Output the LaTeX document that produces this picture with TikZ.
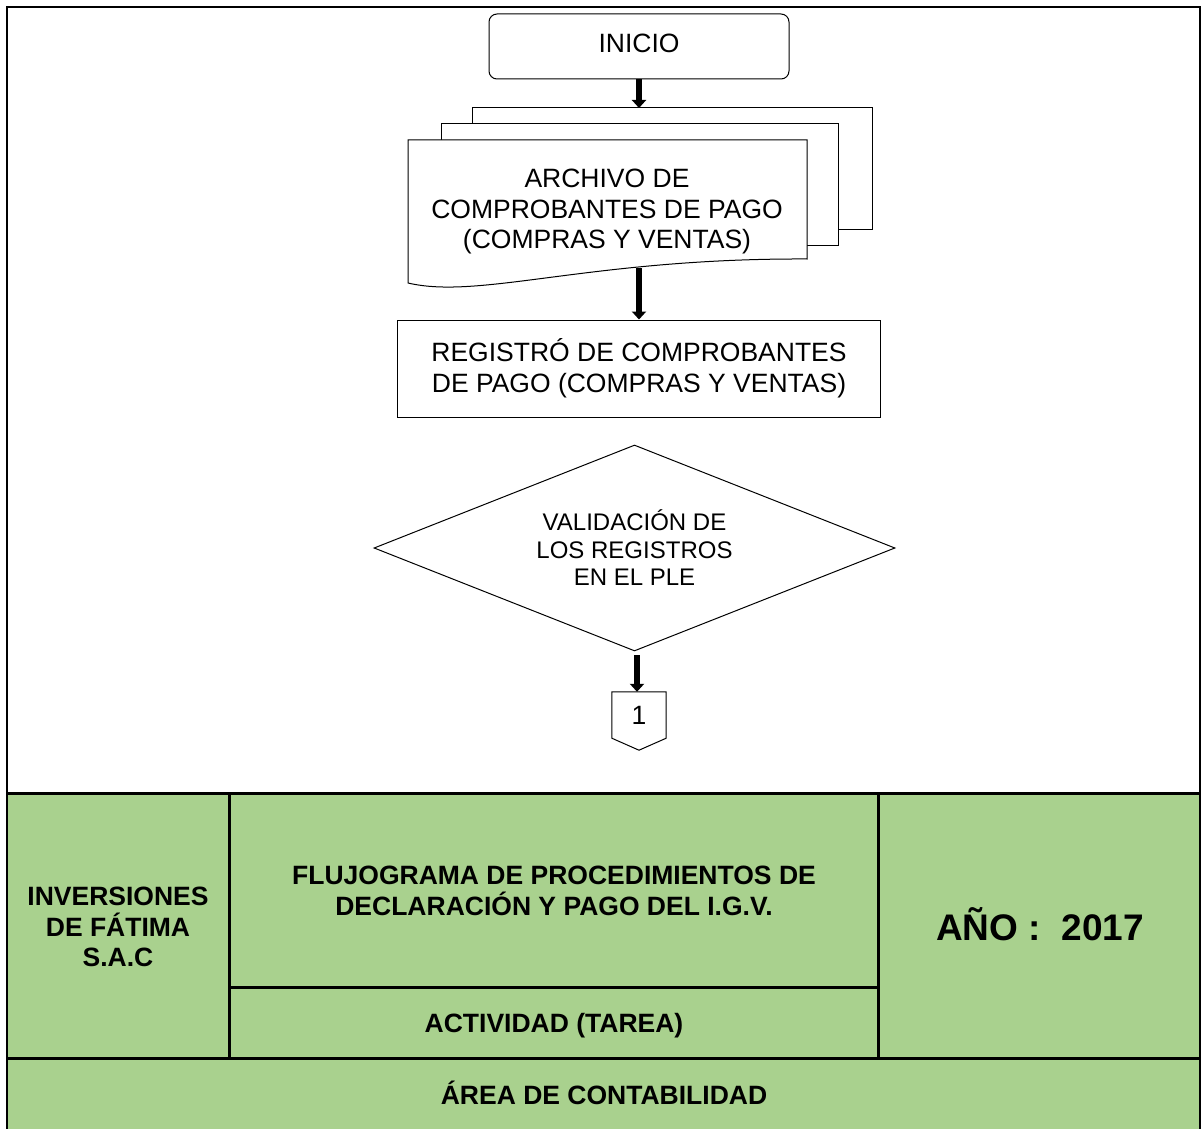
\documentclass[tikz,border=0pt]{standalone}
\usepackage{fontspec}
\setmainfont{Liberation Sans}
\usetikzlibrary{shapes.geometric,arrows.meta}
\usepackage{xcolor}
\definecolor{verdeTabla}{HTML}{A9D18E}
\newcommand{\grande}{\fontsize{26.5}{30.5}\selectfont}
\newcommand{\mediano}{\fontsize{24}{27.5}\selectfont}
\newcommand{\negrita}{\bfseries\fontsize{26.5}{30.5}\selectfont}
\newcommand{\flecha}[2] {
    \draw[line width=5.5pt,-{Triangle[length=8pt,width=14pt]}] (#1) -- (#2);
}
\newcommand{\celda}[4] {
    \node[font=\negrita,align=center] (#1) at (#2,#3) {#4};
}
\newcommand{\marco} {
    \tikzset{
        x=1pt,
        y=-1pt,
    }
    \useasboundingbox (0,0) rectangle (1203,1129);
    \fill[verdeTabla] (7,793) rectangle (1200,1129);
    \draw[line width=2.5pt] (7,1129) -- (7,7) -- (1200,7) -- (1200,1129);
    \draw[line width=3pt] (7,793) -- (1200,793);
    \draw[line width=3pt] (7,1058) -- (1200,1058);
    \draw[line width=3pt] (229,793) -- (229,1058);
    \draw[line width=3pt] (878,793) -- (878,1058);
    \draw[line width=3pt] (229,987) -- (878,987);
}

\begin{document}
\begin{tikzpicture}
        \marco
        \node[draw,line width=1pt,rounded corners=8pt,minimum width=300,minimum height=65,text depth=6pt,font=\grande]
            (inicio) at (639,46.5) {INICIO};
        \draw[line width=1pt] (472,124) -- (472,108) -- (872,108) -- (872,229) -- (838,229);
        \draw[line width=1pt] (441,140) -- (441,124) -- (838,124) -- (838,245) -- (807,245);
        \draw[line width=1pt,fill=white] (408,140) -- (807,140) -- (807,259)
            .. controls (590,258) and (480,300) .. (408,283) -- cycle;
        \coordinate (hojaArriba) at (639,108);
        \coordinate (hojaAbajo) at (639,268);
        \node[align=center,font=\grande] (archivo) at (607,211.5)
            {ARCHIVO DE\\COMPROBANTES DE PAGO\\(COMPRAS Y VENTAS)};
        \node[draw,line width=1pt,minimum width=483,minimum height=97,align=center,font=\grande]
            (registro) at (639,368.5) {REGISTRÓ DE COMPROBANTES\\DE PAGO (COMPRAS Y VENTAS)};
        \node[draw,line width=1pt,diamond,aspect=2.53,minimum width=521,minimum height=206,inner sep=0,align=center,font=\mediano]
            (validacion) at (634.5,548) {VALIDACIÓN DE\\LOS REGISTROS\\EN EL PLE};
        \node[minimum width=54,minimum height=46,font=\grande]
            (conector) at (639,715) {1};
        \draw[line width=1pt] (conector.south west) -- (conector.north west) -- (conector.north east)
            -- (conector.south east) -- ([yshift=-12pt]conector.south) -- cycle;
        \coordinate (rombo) at (637,655);
        \flecha{inicio}{hojaArriba};
        \flecha{hojaAbajo}{registro};
        \flecha{rombo}{rombo |- conector.north};
        \celda{empresa}{118}{927}{INVERSIONES\\DE FÁTIMA\\S.A.C};
        \celda{titulo}{554}{891}{FLUJOGRAMA DE PROCEDIMIENTOS DE\\DECLARACIÓN Y PAGO DEL I.G.V.};
        \celda{actividad}{554}{1026}{ACTIVIDAD (TAREA)};
        \celda{area}{604}{1093}{ÁREA DE CONTABILIDAD};
        \node[font=\bfseries\fontsize{37}{40}\selectfont] (anio) at (1040,924) {AÑO :\ \ 2017};
    \end{tikzpicture}
\end{document}
